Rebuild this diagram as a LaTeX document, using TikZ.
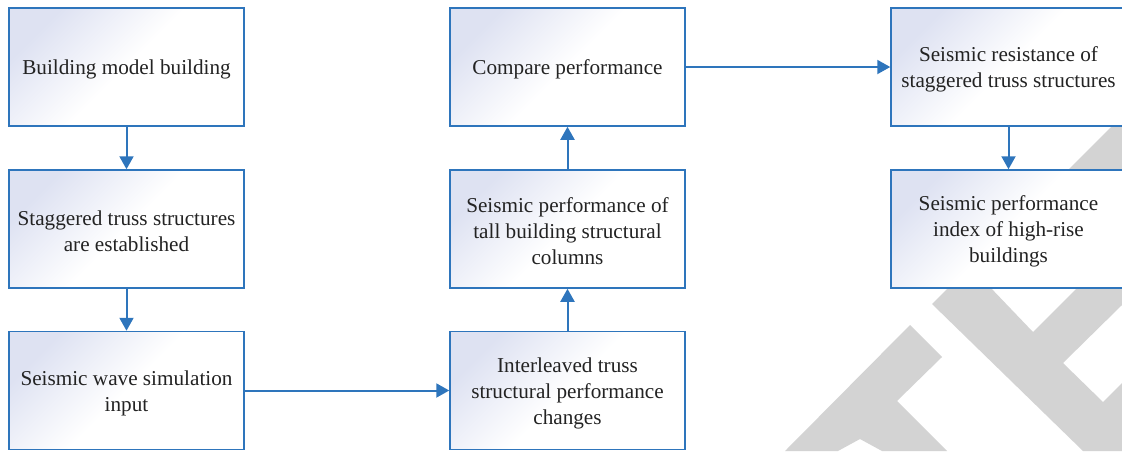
\documentclass[tikz,border=0pt]{standalone}
\usepackage{fontspec}
\setmainfont{Liberation Serif}
\usetikzlibrary{arrows.meta}
\definecolor{flowblue}{RGB}{46,117,188}
\definecolor{boxlav}{RGB}{222,226,242}
\definecolor{wmgray}{RGB}{211,211,211}
\definecolor{txt}{RGB}{35,35,35}
\tikzset{
  flowbox/.style={draw=flowblue, line width=1.5pt, minimum width=235pt, minimum height=118pt,
    inner sep=0pt, align=center, text=txt,
    font=\fontsize{21.2pt}{26pt}\selectfont,
    top color=boxlav, bottom color=white, middle color=white, shading angle=45},
  boxtext/.style={text=txt, align=center, inner sep=0pt, font=\fontsize{21.2pt}{26pt}\selectfont},
  flowarrow/.style={draw=flowblue, line width=2pt, -{Triangle[width=14pt,length=13pt]}},
  watermark/.style={fill=wmgray, draw=none}
}
\begin{document}
\begin{tikzpicture}[x=1pt,y=-1pt]
\useasboundingbox (0,0) rectangle (1122,451);
% watermark fragments
\fill[watermark] (785,451) -- (910,325) -- (942,357) -- (897,401) -- (947,451) -- (882,451) -- (860,439) -- (838,451) -- cycle;
\fill[watermark] (932,304) -- (950,286) -- (989,286) -- (1033,332) -- (1079,286) -- (1122,286) -- (1122,305) -- (1063,363) -- (1103,402) -- (1122,383) -- (1122,451) -- (1083,451) -- cycle;
\fill[watermark] (1060,178) -- (1122,116) -- (1122,178) -- cycle;
% boxes
\node[flowbox] (b1) at (126.5,67) {};
\node[flowbox] (b2) at (126.5,229) {};
\node[flowbox] (b3) at (126.5,390.5) {};
\node[flowbox] (m1) at (567.5,67) {};
\node[flowbox] (m2) at (567.5,229) {};
\node[flowbox] (m3) at (567.5,390.5) {};
\node[flowbox] (r1) at (1008.5,67) {};
\node[flowbox] (r2) at (1008.5,229) {};
% texts
\node[boxtext] (t1) at ([yshift=-2.5pt]b1.center) {Building model building};
\node[boxtext] (t2) at ([yshift=-2.5pt]b2.center) {Staggered truss structures\\are established};
\node[boxtext] (t3) at ([yshift=-2.5pt]b3.center) {Seismic wave simulation\\input};
\node[boxtext] (t4) at ([yshift=-2.5pt]m1.center) {Compare performance};
\node[boxtext] (t5) at ([yshift=-2.5pt]m2.center) {Seismic performance of\\tall building structural\\columns};
\node[boxtext] (t6) at ([yshift=-2.5pt]m3.center) {Interleaved truss\\structural performance\\changes};
\node[boxtext] (t7) at ([yshift=-2.5pt]r1.center) {Seismic resistance of\\staggered truss structures};
\node[boxtext] (t8) at ([yshift=-2.5pt]r2.center) {Seismic performance\\index of high-rise\\buildings};
% connectors
\draw[flowarrow] (b1) -- (b2);
\draw[flowarrow] (b2) -- (b3);
\draw[flowarrow] (b3) -- (m3);
\draw[flowarrow] (m3) -- (m2);
\draw[flowarrow] (m2) -- (m1);
\draw[flowarrow] (m1) -- (r1);
\draw[flowarrow] (r1) -- (r2);
\end{tikzpicture}
\end{document}
